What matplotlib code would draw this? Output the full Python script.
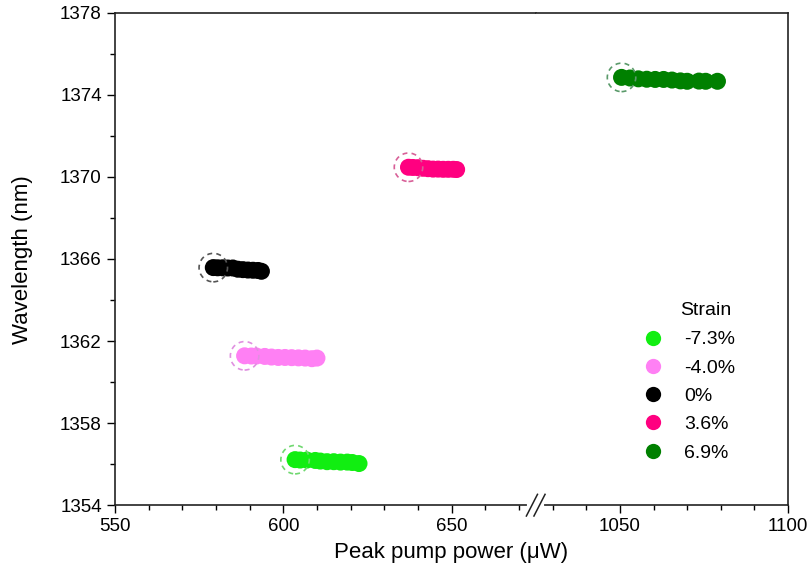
import numpy as np
import matplotlib
matplotlib.use("Agg")
from matplotlib import pyplot as plt
from matplotlib.lines import Line2D
from matplotlib.ticker import MultipleLocator

plt.rcParams['font.family'] = ['Liberation Sans', 'DejaVu Sans']

# Strain series: peak pump power (uW) vs wavelength (nm)
labels = ['-7.3%', '-4.0%', '0%', '3.6%', '6.9%']
colors = ['#11ee11', '#ff80f4', '#000000', '#ff0080', '#008000']
ring_colors = ['#70d870', '#e090e0', '#555555', '#d86098', '#5a9a6a']

x_m73 = [603.5, 605.0, 607.0, 609.5, 611.0, 613.0, 615.0, 617.0, 619.0, 620.5, 622.5]
y_m73 = [1356.22, 1356.20, 1356.20, 1356.18, 1356.15, 1356.12, 1356.12, 1356.10, 1356.10, 1356.08, 1356.03]

x_m40 = [588.5, 590.5, 592.0, 594.5, 596.5, 598.5, 600.5, 602.5, 604.5, 606.5, 608.5, 610.0]
y_m40 = [1361.28, 1361.27, 1361.27, 1361.25, 1361.22, 1361.20, 1361.20, 1361.19, 1361.18, 1361.17, 1361.14, 1361.17]

x_0 = [579.2, 580.5, 582.0, 583.5, 585.0, 586.5, 588.0, 589.5, 591.0, 592.5, 593.5]
y_0 = [1365.58, 1365.57, 1365.57, 1365.56, 1365.56, 1365.50, 1365.48, 1365.46, 1365.45, 1365.44, 1365.40]

x_36 = [637.2, 638.5, 640.0, 641.5, 643.0, 644.5, 646.0, 647.5, 649.0, 650.5, 651.5]
y_36 = [1370.47, 1370.46, 1370.45, 1370.42, 1370.40, 1370.38, 1370.38, 1370.37, 1370.37, 1370.37, 1370.36]

x_69 = [1050.5, 1053.0, 1055.5, 1058.0, 1060.5, 1063.0, 1065.5, 1068.0, 1070.0, 1073.5, 1075.5, 1079.0]
y_69 = [1374.85, 1374.82, 1374.78, 1374.76, 1374.75, 1374.75, 1374.72, 1374.68, 1374.66, 1374.67, 1374.66, 1374.66]

series_x = [x_m73, x_m40, x_0, x_36, x_69]
series_y = [y_m73, y_m40, y_0, y_36, y_69]

y_major = [1354, 1358, 1362, 1366, 1370, 1374, 1378]
y_minor = [1356, 1360, 1364, 1368, 1372, 1376]

left_lim = (550, 675)
right_lim = (1025, 1100)

fig = plt.figure(figsize=(8.1, 5.8), dpi=100)
gs = fig.add_gridspec(1, 2, width_ratios=[left_lim[1] - left_lim[0], right_lim[1] - right_lim[0]],
                      left=0.142, right=0.973, bottom=0.129, top=0.978, wspace=0)
ax1 = fig.add_subplot(gs[0])
ax2 = fig.add_subplot(gs[1], sharey=ax1)

for xs, ys, c, rc in zip(series_x, series_y, colors, ring_colors):
    ax = ax1 if xs[0] < left_lim[1] else ax2
    ax.scatter(xs, ys, s=150, color=c, edgecolors='none', zorder=3)
    # dashed ring around the first point
    ax.scatter([xs[0]], [ys[0]], s=420, facecolors='none', edgecolors=rc,
               linewidths=1.2, linestyles=(0, (3, 2.5)), zorder=4)

ax1.set_xlim(*left_lim)
ax2.set_xlim(*right_lim)
ax1.set_ylim(1354, 1378)

ax1.set_xticks([550, 600, 650])
ax2.set_xticks([1050, 1100])
for ax in (ax1, ax2):
    ax.xaxis.set_minor_locator(MultipleLocator(10))
    ax.tick_params(axis='both', which='major', direction='out', length=6, width=1,
                   labelsize=13.5, top=False, right=False)
    ax.tick_params(axis='both', which='minor', direction='out', length=3.5, width=1,
                   top=False, right=False)
    for sp in ax.spines.values():
        sp.set_linewidth(1.2)
        sp.set_color('#222222')

ax1.set_yticks(y_major)
ax1.set_yticks(y_minor, minor=True)
ax1.spines['right'].set_visible(False)
ax2.spines['left'].set_visible(False)
ax2.tick_params(axis='y', which='both', left=False, labelleft=False)

# axis break marks
ax2.plot([-0.025, 0.025], [0, 0], transform=ax2.transAxes, color='white', lw=3,
         clip_on=False, zorder=5)
for dx in (-0.015, 0.015):
    ax2.plot([dx - 0.022, dx + 0.022], [-0.022, 0.022], transform=ax2.transAxes,
             color='#222222', lw=1.1, clip_on=False, zorder=6)

fig.text(0.557, 0.03, 'Peak pump power (\u03bcW)', ha='center', va='bottom', fontsize=16)
fig.text(0.028, 0.553, 'Wavelength (nm)', rotation=90, ha='center', va='center', fontsize=16)

handles = [Line2D([], [], marker='o', linestyle='none', markersize=11,
                  markerfacecolor=c, markeredgecolor='none') for c in colors]
fig.legend(handles, labels, loc='upper left', bbox_to_anchor=(0.77, 0.46),
           frameon=False, fontsize=14, labelspacing=0.55, handletextpad=1.0,
           handlelength=1.2)
fig.text(0.840, 0.465, 'Strain', ha='left', va='center', fontsize=14)

fig.savefig('out.png', dpi=100)
